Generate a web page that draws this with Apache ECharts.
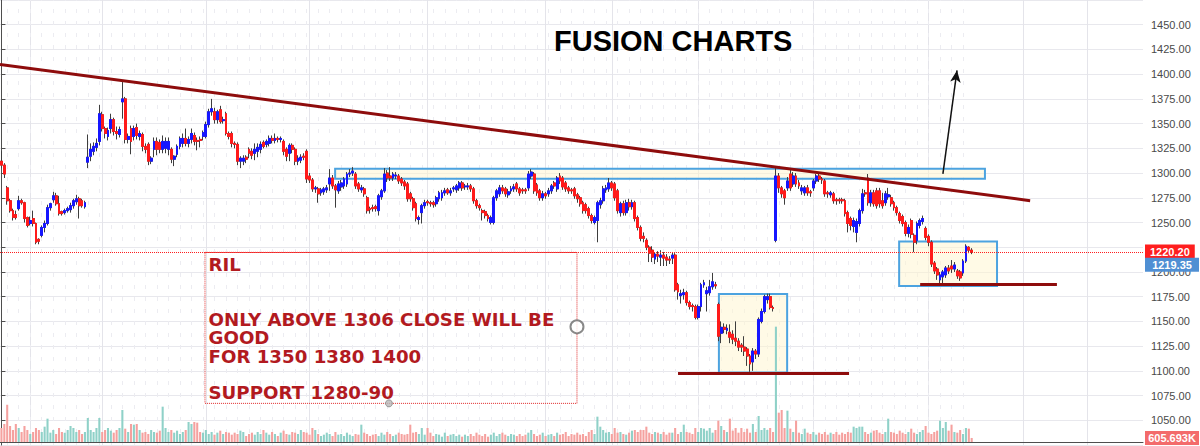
<!DOCTYPE html>
<html>
<head>
<meta charset="utf-8">
<title>RIL daily - Fusion Charts</title>
<script src="https://cdn.jsdelivr.net/npm/echarts@6/dist/echarts.min.js"></script>
<style>
  html, body { margin: 0; padding: 0; background: #fff; }
  #main { width: 1200px; height: 446px; }
</style>
</head>
<body>
<div id="main"></div>
<script>
// daily candles [open, close, low, high]
var segA = [
  [1312,1308,1305,1322],[1308,1299,1295,1310],[1285,1272,1268,1287],[1272,1262,1260,1274],[1262,1255,1252,1264],
  [1258,1255,1253,1262],[1264,1272,1262,1277],[1272,1270,1268,1274],[1270,1254,1250,1271],[1255,1247,1245,1256],
  [1249,1252,1247,1256],[1254,1249,1246,1262],[1249,1230,1228,1250],[1233,1231,1228,1234],[1237,1245,1235,1247],
  [1245,1249,1240,1252],[1249,1265,1247,1268],[1265,1269,1262,1270],[1273,1277,1270,1281],[1277,1269,1267,1280],
  [1269,1259,1257,1277],[1261,1259,1257,1262],[1260,1262,1258,1264],[1262,1264,1260,1266],[1263,1267,1260,1270],
  [1267,1272,1264,1274],[1271,1274,1268,1278],[1274,1267,1254,1276],[1272,1267,1265,1274],[1266,1270,1264,1272]
];
var segB = [
  [1311,1316,1305,1339],[1317,1324,1312,1330],[1322,1327,1318,1331],[1326,1330,1322,1335],[1332,1360,1328,1369],
  [1359,1345,1342,1362],[1345,1340,1335,1347],[1337,1343,1333,1346],[1345,1354,1340,1360],[1354,1342,1338,1356],
  [1342,1340,1334,1347],[1339,1344,1336,1347],[1372,1375,1355,1392],[1375,1334,1330,1377],[1334,1337,1330,1340],
  [1345,1332,1319,1348],[1337,1345,1333,1348],[1346,1338,1334,1350],[1337,1340,1333,1343],[1339,1327,1322,1341],
  [1327,1324,1320,1330],[1329,1312,1308,1331],[1312,1315,1309,1317],[1324,1332,1316,1336],[1332,1324,1318,1336],
  [1331,1324,1320,1334],[1324,1332,1320,1338],[1325,1332,1320,1336],[1324,1332,1318,1336],[1324,1314,1310,1326],
  [1314,1317,1307,1318],[1319,1327,1316,1329],[1327,1335,1324,1337],[1330,1335,1326,1340],[1335,1330,1327,1345],
  [1330,1334,1326,1337],[1334,1340,1330,1345],[1338,1332,1328,1341],[1333,1332,1323,1336],[1334,1333,1326,1337],
  [1337,1341,1333,1343],[1337,1349,1335,1352],[1349,1362,1346,1365],[1362,1365,1358,1375],[1362,1354,1350,1366],
  [1354,1362,1350,1364],[1364,1352,1350,1368],[1353,1354,1350,1357],[1360,1340,1338,1362],[1340,1337,1334,1342],
  [1340,1330,1326,1342],[1330,1329,1325,1332],[1329,1312,1308,1331],[1312,1315,1305,1317],[1312,1315,1308,1318],
  [1316,1314,1310,1318],[1324,1320,1315,1326],[1322,1318,1314,1325],[1320,1324,1313,1330],[1322,1326,1316,1330],
  [1324,1329,1320,1332],[1331,1327,1325,1333],[1329,1332,1326,1334],[1330,1335,1327,1338],[1335,1333,1330,1338],
  [1333,1335,1330,1340],[1335,1334,1331,1337],[1334,1335,1331,1337],[1332,1322,1318,1334],[1324,1317,1312,1326],
  [1320,1328,1312,1330],[1328,1324,1320,1330],[1324,1312,1308,1326],[1312,1315,1308,1318],[1313,1316,1310,1319],
  [1317,1316,1313,1320],[1322,1294,1290,1324],[1297,1293,1290,1300],[1293,1284,1281,1295],[1284,1285,1280,1287]
];
var segC = [
  [1284,1279,1270,1286],[1280,1283,1277,1285],[1281,1284,1278,1286],[1283,1285,1280,1288],[1289,1295,1282,1304],
  [1295,1287,1284,1298],[1287,1283,1265,1289],[1282,1289,1279,1292],[1286,1290,1282,1293],[1287,1294,1284,1296],
  [1289,1299,1286,1301],[1299,1300,1296,1304],[1300,1302,1297,1306],[1299,1287,1284,1301],[1289,1284,1281,1291],
  [1283,1285,1280,1288],[1284,1279,1276,1286],[1275,1262,1259,1277],[1264,1263,1259,1266],[1265,1264,1261,1268],
  [1266,1264,1261,1268],[1262,1277,1257,1279],[1276,1282,1273,1284],[1282,1299,1280,1305],[1300,1295,1291,1303],
  [1297,1295,1292,1306],[1295,1299,1292,1301],[1297,1298,1294,1301],[1297,1292,1289,1299],[1294,1290,1287,1296],
  [1291,1287,1283,1293],[1289,1274,1271,1291],[1279,1274,1271,1281],[1274,1265,1262,1276],[1269,1254,1251,1271],
  [1253,1255,1248,1257],[1260,1267,1249,1269],[1267,1270,1264,1273],[1271,1270,1267,1273],[1270,1269,1266,1272],
  [1270,1268,1265,1272],[1269,1275,1266,1277],[1274,1280,1271,1282],[1275,1280,1272,1283],[1280,1282,1277,1285],
  [1283,1280,1278,1285],[1280,1282,1277,1285],[1284,1285,1281,1287],[1283,1287,1280,1289],[1285,1290,1282,1292],
  [1290,1285,1282,1292],[1286,1287,1283,1289],[1286,1287,1283,1290],[1287,1284,1281,1289],[1284,1272,1269,1286],
  [1272,1267,1264,1274],[1267,1265,1262,1269],[1262,1260,1252,1264],[1261,1257,1254,1263],[1257,1254,1251,1259],
  [1250,1255,1248,1257],[1250,1275,1248,1277],[1275,1282,1272,1284],[1279,1285,1276,1288],[1285,1282,1279,1288],
  [1284,1279,1276,1286],[1278,1281,1275,1284],[1282,1284,1279,1287],[1284,1286,1281,1289],[1289,1284,1281,1291],
  [1284,1280,1277,1286],[1283,1282,1279,1285],[1283,1282,1279,1285],[1285,1299,1282,1302],[1297,1301,1294,1304],
  [1299,1282,1279,1301],[1288,1280,1277,1290],[1282,1275,1272,1284],[1275,1279,1272,1282],[1279,1277,1274,1281],
  [1279,1282,1276,1285],[1282,1287,1279,1289],[1290,1287,1284,1292],[1284,1295,1281,1297],[1297,1292,1289,1300],
  [1295,1286,1283,1297],[1290,1284,1281,1292],[1285,1282,1279,1287],[1283,1282,1279,1285],[1284,1277,1274,1286],
  [1278,1274,1270,1280],[1275,1269,1266,1277],[1270,1262,1259,1272],[1268,1262,1259,1270],[1264,1257,1254,1266],
  [1257,1252,1249,1259],[1250,1255,1248,1257],[1252,1270,1230,1272]
];
var segD = [
  [1268,1272,1264,1275],[1272,1284,1269,1287],[1283,1285,1280,1288],[1284,1290,1281,1295],[1290,1285,1282,1292],
  [1289,1275,1272,1291],[1282,1262,1259,1284],[1260,1269,1256,1271],[1269,1260,1257,1272],[1260,1270,1257,1273],
  [1270,1266,1262,1274],[1266,1270,1263,1273],[1270,1254,1251,1272],[1255,1245,1242,1257],[1245,1234,1231,1247],
  [1236,1234,1230,1240],[1232,1225,1222,1234],[1225,1219,1210,1227],[1222,1215,1210,1226],[1213,1218,1208,1220],
  [1218,1216,1210,1221],[1215,1217,1206,1222],[1217,1214,1206,1220],[1215,1212,1206,1218],[1213,1212,1208,1216],
  [1214,1217,1208,1220],[1217,1182,1180,1219],[1187,1180,1172,1189],[1176,1178,1168,1182],[1177,1179,1172,1183],
  [1179,1169,1166,1181],[1169,1165,1162,1171],[1166,1165,1160,1168],[1165,1154,1152,1167],[1154,1165,1152,1167],
  [1165,1187,1160,1189],[1187,1189,1184,1192],[1178,1181,1160,1185],[1179,1185,1176,1192],[1185,1190,1182,1199],
  [1187,1186,1183,1190]
];
var segE = [
  [1167,1135,1130,1169],[1138,1144,1128,1150],[1144,1142,1138,1148],[1141,1143,1137,1147],[1139,1134,1128,1147],
  [1137,1132,1127,1141],[1133,1130,1125,1150],[1130,1124,1120,1133],[1126,1124,1119,1128],[1124,1120,1115,1135],
  [1122,1115,1105,1124],[1115,1107,1099,1117],[1109,1120,1100,1123],[1120,1117,1112,1122],[1117,1152,1114,1154],
  [1150,1160,1148,1163],[1160,1175,1158,1177],[1172,1175,1168,1178],[1175,1164,1162,1178],[1164,1163,1160,1166]
];
var segF = [
  [1232,1297,1230,1305],[1297,1285,1280,1300],[1285,1279,1275,1287],[1282,1275,1268,1284],[1285,1292,1282,1296],
  [1299,1285,1282,1303],[1289,1297,1286,1301],[1297,1289,1286,1300],[1290,1287,1284,1293],[1282,1285,1278,1288],
  [1280,1285,1277,1287],[1285,1280,1277,1288],[1281,1280,1276,1283],[1285,1292,1282,1294],[1292,1297,1289,1299],
  [1297,1294,1291,1300],[1294,1293,1289,1296],[1292,1279,1276,1294],[1280,1279,1275,1282],[1278,1280,1275,1282],
  [1279,1272,1269,1281],[1273,1272,1268,1275],[1273,1272,1269,1275],[1273,1272,1269,1275],[1272,1259,1256,1274],
  [1260,1249,1240,1262],[1254,1247,1242,1256],[1246,1252,1240,1255],[1240,1251,1230,1254],[1249,1262,1246,1264],
  [1262,1279,1259,1284],[1280,1279,1276,1283],[1295,1270,1267,1299],[1270,1280,1266,1283],[1280,1269,1266,1283],
  [1282,1267,1264,1285],[1282,1269,1265,1285],[1272,1267,1264,1280],[1270,1279,1267,1282],[1276,1278,1273,1285],
  [1275,1269,1266,1278],[1270,1265,1262,1272],[1265,1260,1257,1267],[1259,1252,1249,1261],[1256,1249,1246,1258],
  [1250,1239,1236,1252],[1239,1245,1235,1248],[1252,1238,1234,1254],[1237,1230,1220,1239],[1232,1249,1228,1251],
  [1247,1252,1244,1254],[1251,1254,1248,1257],[1244,1235,1232,1246],[1236,1230,1226,1238],[1230,1208,1205,1232],
  [1209,1201,1198,1211],[1203,1197,1192,1205],[1192,1197,1188,1200],[1195,1200,1188,1202],[1197,1204,1194,1206],
  [1204,1201,1198,1207],[1206,1203,1199,1212],[1203,1207,1200,1210],[1201,1196,1193,1203],[1200,1194,1191,1202],
  [1199,1211,1196,1213],[1211,1226,1209,1228],[1225,1222,1219,1226],[1222,1220.2,1218,1224]
];

// volume, millions of shares, same days as above
var volA = [2.1,2.7,5.6,2.4,1.8,2.7,2.1,1.5,2.4,1.8,1.2,1.5,2.1,1.8,1.5,2.3,3.5,1.4,1.8,1.2,2.1,1.5,1.4,1.8,2.4,2.1,1.5,1.8,1.2,1.5];
var volB = [3.6,1.8,1.5,2.1,3.6,1.5,1.8,2.1,1.7,1.4, 1.8,2.1,4.8,2.0,1.5,2.7,2.6,2.7,1.8,1.4,
  1.5,1.2,1.8,1.5,1.4,1.7,5.3,2.1,1.5,1.8, 1.4,1.7,1.2,1.5,1.8,3.0,2.7,3.0,2.9,1.5,
  1.4,1.8,1.2,1.5,1.1,1.4,1.7,1.2,1.5,1.4, 1.1,1.4,1.2,1.7,1.5,0.9,1.2,1.4,1.1,1.5,
  1.2,1.8,1.4,1.1,1.5,1.2,0.9,1.4,1.7,1.2, 1.1,1.5,1.4,1.2,1.8,1.5,1.4,1.1,2.1,1.8];
var volC = [1.2,0.9,1.1,1.4,1.2,0.9,1.5,1.1,1.2,0.9, 1.4,1.1,0.9,1.2,1.1,2.6,1.4,1.2,0.9,1.1,
  1.2,0.9,1.4,1.1,1.5,1.2,0.9,1.1,1.4,1.2, 1.1,1.2,2.6,1.4,1.5,1.2,2.1,1.1,2.1,1.4,
  0.9,1.2,1.1,0.8,1.4,0.9,1.1,1.2,0.9,1.1, 0.8,1.1,0.9,1.2,0.9,1.4,1.1,0.9,1.2,0.8,
  1.1,1.4,0.9,1.2,1.4,1.1,0.9,1.2,1.1,0.9, 1.2,0.9,1.1,1.4,1.8,1.2,0.9,1.1,1.4,0.9,
  1.1,1.2,0.9,1.4,1.1,1.2,1.5,0.9,1.2,1.1, 1.4,1.1,1.2,0.9,1.5,1.8,1.2,3.8];
var volD = [2.3,1.8,1.4,1.5,1.2,2.1,1.4,1.5,1.2,1.1, 1.4,1.7,1.8,1.5,1.8,1.8,2.3,1.4,1.2,1.5,
  1.4,1.2,1.5,1.1,1.4,1.4,2.1,1.2,1.5,2.6, 1.5,1.4,1.2,2.1,1.5,2.1,2.0,1.7,2.1,1.4, 1.8];
var volE = [3.2,2.4,1.8,1.5,3.5,1.7,2.1,1.4,2.1,1.5,2.0,1.4,2.7,1.5,3.9,1.8,2.1,1.8,2.1,1.5];
var volF = [17.3,4.4,4.8,2.1,4.7,2.0,1.5,3.2,1.4,1.2, 2.0,1.4,1.2,1.5,1.1,1.4,1.2,1.5,1.1,1.4,
  1.2,1.5,1.1,1.4,1.2,1.5,1.4,2.3,2.1,2.3, 2.3,1.5,1.2,1.4,1.7,1.8,1.4,1.2,1.5,3.5,
  1.5,1.4,1.2,1.7,1.4,1.2,1.5,2.0,1.4,1.2, 1.5,1.8,2.4,1.4,1.2,1.5,1.7,3.2,2.1,3.0,
  1.7,2.6,1.5,1.4,1.8,1.2,2.1,2.0,0.605693];

var lastClose = 1220.20;
var lastBid = 1219.35;
var totalDays = 397;              // includes the empty days on the right
var monthStarts = [10, 35, 71, 107, 148, 189, 212, 242, 282, 322, 355, 377];

// drawings, as [day index, price]
var trendLine = [[-0.5, 1409.8], [357.3, 1272.1]];
var zoneBand = [[115.9, 1304.3], [341.6, 1294.2]];
var boxLow = [[249.2, 1177.6], [272.9, 1098.2]];
var boxRecent = [[311.8, 1230.9], [345.8, 1185.7]];
var supportLow = [[235.0, 1097.2], [294.4, 1097.2]];
var supportRecent = [[319.1, 1187.7], [366.6, 1187.7]];
var arrowUp = [[327.0, 1299.2], [331.9, 1403.8]];
var noteBox = [[70.7, 1219.8], [199.9, 1067.1]];
var noteHandles = [[199.9, 1144.5], [134.6, 1067.1]];
var noteLines = ['RIL', '', '', 'ONLY ABOVE 1306 CLOSE WILL BE', 'GOOD', 'FOR 1350 1380 1400', '', 'SUPPORT 1280-90'];

var candles = segA.concat(segB, segC, segD, segE, segF);
var volumes = volA.concat(volB, volC, volD, volE, volF);
var lastVolume = volumes[volumes.length - 1];

var days = [];
for (var i = 0; i < totalDays; i++) days.push('d' + i);

// bodies only (no wicks), drawn over the grey wick candles
var bodies = candles.map(function (c) {
  return [c[0], c[1], Math.min(c[0], c[1]), Math.max(c[0], c[1])];
});
var volumeBars = volumes.map(function (v, i) {
  var up = candles[i][1] >= candles[i][0];
  return { value: v, itemStyle: { color: up ? '#8fd1c8' : '#f5a19f' } };
});

var gridLines = monthStarts.map(function (d) {
  return { xAxis: d, lineStyle: { color: '#e4e4ea', width: 1, type: 'solid' } };
});
for (var k = 2; k < candles.length; k += 4) {
  gridLines.push({ xAxis: k, lineStyle: { color: '#ececf1', width: 1, type: [4, 8] } });
}

var darkRed = '#8e0c0c';
var boxStyle = { color: 'rgba(255,246,205,0.5)', borderColor: '#4ca3e0', borderWidth: 2, borderType: 'solid' };

var myChart = echarts.init(document.getElementById('main'), null, { renderer: 'svg' });
var option = {
  animation: false,
  backgroundColor: '#ffffff',
  title: {
    text: 'FUSION CHARTS',
    left: 549,
    top: 21,
    textStyle: { fontSize: 29, fontWeight: 'bold', color: '#000', fontFamily: 'Liberation Sans' }
  },
  grid: [
    { left: 0, right: 57, top: -3, bottom: 1 },
    { left: 0, right: 57, top: 300, bottom: 4 }
  ],
  xAxis: [
    { type: 'category', gridIndex: 0, data: days, show: false },
    { type: 'value', gridIndex: 0, min: -0.5, max: totalDays - 0.5, show: false },
    {
      type: 'category', gridIndex: 1, data: days,
      axisLine: { show: true, lineStyle: { color: '#4e4e4e' } },
      axisTick: { show: false },
      axisLabel: { show: false },
      splitLine: { show: false }
    }
  ],
  yAxis: [
    {
      type: 'value', gridIndex: 0, position: 'right',
      min: 1025, max: 1475, interval: 25,
      axisLine: { show: true, lineStyle: { color: '#4e4e4e' } },
      axisTick: { show: true, length: 4, lineStyle: { color: '#4e4e4e' } },
      axisLabel: {
        color: '#4a4a4a', fontSize: 11, fontFamily: 'Liberation Sans', margin: 8,
        showMinLabel: false, showMaxLabel: false,
        // 1225 sits under the last-price tag
        formatter: function (v) { return v === 1225 ? '' : v.toFixed(2); }
      },
      splitLine: { show: true, lineStyle: { color: '#e8e8ed' } }
    },
    { type: 'value', gridIndex: 1, min: 0, max: 21.3, show: false }
  ],
  series: [
    {
      name: 'grid', type: 'line', xAxisIndex: 1, yAxisIndex: 0, data: [], z: 0, silent: true,
      markLine: { z: 0, symbol: ['none', 'none'], silent: true, animation: false, label: { show: false }, data: gridLines }
    },
    {
      name: 'zones', type: 'line', xAxisIndex: 1, yAxisIndex: 0, data: [], z: 1, silent: true,
      markArea: {
        z: 1,
        silent: true,
        label: { show: false },
        data: [
          [{ coord: zoneBand[0], itemStyle: boxStyle }, { coord: zoneBand[1] }],
          [{ coord: boxLow[0], itemStyle: boxStyle }, { coord: boxLow[1] }],
          [{ coord: boxRecent[0], itemStyle: boxStyle }, { coord: boxRecent[1] }],
          [{
            coord: noteBox[0],
            itemStyle: { color: 'rgba(0,0,0,0)', borderColor: '#e02a2a', borderWidth: 1, borderType: 'dotted' },
            label: {
              show: true, position: 'insideTopLeft', distance: 0, padding: [3, 0, 0, 4],
              formatter: noteLines.join('\n'),
              color: '#b21a1f', fontSize: 18.2, fontWeight: 'bold', fontFamily: 'DejaVu Sans', lineHeight: 18.4
            }
          }, { coord: noteBox[1] }]
        ]
      }
    },
    {
      name: 'wick', type: 'candlestick', xAxisIndex: 0, yAxisIndex: 0, data: candles,
      barWidth: '82%', z: 2, silent: true,
      itemStyle: { color: 'rgba(0,0,0,0)', color0: 'rgba(0,0,0,0)', borderColor: '#3d3d3d', borderColor0: '#3d3d3d', borderWidth: 1 }
    },
    {
      name: 'RIL', type: 'candlestick', xAxisIndex: 0, yAxisIndex: 0, data: bodies,
      barWidth: '82%', z: 3, silent: true,
      itemStyle: { color: '#1616ff', color0: '#ff1a1a', borderColor: '#1616ff', borderColor0: '#ff1a1a', borderWidth: 1 }
    },
    {
      name: 'drawings', type: 'line', xAxisIndex: 1, yAxisIndex: 0, data: [], z: 4, silent: true, clip: false,
      markLine: {
        symbol: ['none', 'none'], silent: true, animation: false, label: { show: false },
        data: [
          [{ coord: trendLine[0], lineStyle: { color: darkRed, width: 3, type: 'solid' } }, { coord: trendLine[1] }],
          [{ coord: supportLow[0], lineStyle: { color: darkRed, width: 3, type: 'solid' } }, { coord: supportLow[1] }],
          [{ coord: supportRecent[0], lineStyle: { color: darkRed, width: 3, type: 'solid' } }, { coord: supportRecent[1] }],
          [{ coord: arrowUp[0], symbol: 'none', lineStyle: { color: '#111', width: 1.5, type: 'solid' } },
           { coord: arrowUp[1], symbol: 'arrow', symbolSize: [8, 12] }],
          {
            yAxis: lastClose,
            lineStyle: { color: '#ff1e1e', width: 1, type: 'dotted' },
            label: {
              show: true, position: 'end', distance: 2, formatter: lastClose.toFixed(2),
              backgroundColor: '#ff1e1e', color: '#fff', fontSize: 11, fontWeight: 'bold',
              fontFamily: 'Liberation Sans', padding: [2, 5, 2, 5]
            }
          }
        ]
      }
    },
    {
      name: 'handles', type: 'scatter', xAxisIndex: 1, yAxisIndex: 0, z: 5, silent: true,
      data: [
        { value: noteHandles[0], symbolSize: 13, itemStyle: { color: '#fff', borderColor: '#6b6b6b', borderWidth: 2 } },
        { value: noteHandles[1], symbolSize: 7, itemStyle: { color: '#b8b8b8', borderColor: '#8a8a8a', borderWidth: 1 } }
      ]
    },
    {
      name: 'Volume', type: 'bar', xAxisIndex: 2, yAxisIndex: 1, data: volumeBars,
      barWidth: '72%', z: 1, silent: true, clip: false
    }
  ]
};
myChart.setOption(option);

// axis tags: bid just under the last-price tag, volume tag at the foot of the axis
var axisX = myChart.convertToPixel({ xAxisIndex: 1 }, totalDays - 0.5);
var yBid = myChart.convertToPixel({ yAxisIndex: 0 }, lastBid);
var yVol = myChart.convertToPixel({ yAxisIndex: 1 }, lastVolume);
function axisTag(y, text, fill) {
  return [
    { type: 'rect', z: 100, shape: { x: axisX + 2, y: y - 7, width: 54, height: 14 }, style: { fill: fill } },
    {
      type: 'text', z: 101, x: axisX + 29, y: y,
      style: { text: text, fill: '#fff', font: 'bold 11px "Liberation Sans"', align: 'center', verticalAlign: 'middle' }
    }
  ];
}
myChart.setOption({
  graphic: axisTag(yBid + 12, lastBid.toFixed(2), '#4f8fd3')
    .concat(axisTag(Math.min(yVol, 438), (lastVolume * 1000).toFixed(3) + 'K', '#f36b6b'))
});
</script>
</body>
</html>
